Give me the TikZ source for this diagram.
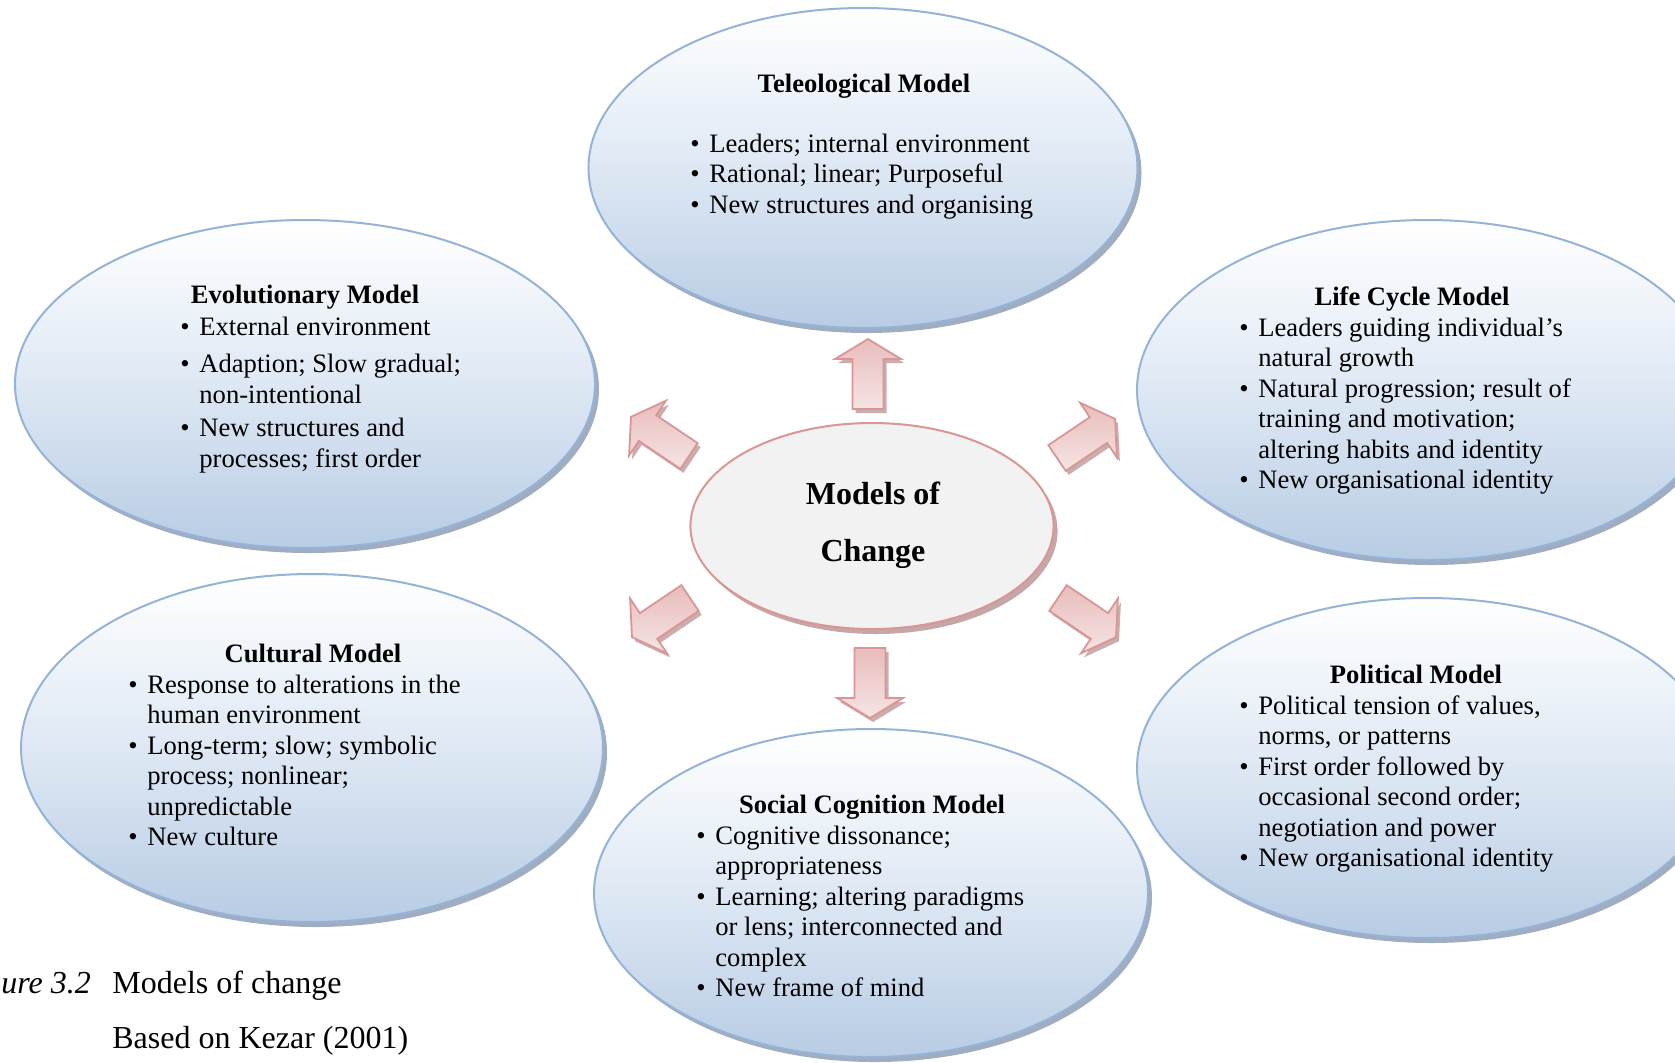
\documentclass[tikz,border=0pt]{standalone}
\usepackage{fontspec}
\setmainfont{Liberation Serif}
\usetikzlibrary{shapes.geometric,shadows}

\definecolor{ellborder}{RGB}{149,179,215}
\definecolor{ellbottom}{RGB}{184,204,228}
\definecolor{ellmid}{RGB}{222,232,244}
\definecolor{ellshadow}{RGB}{120,138,166}
\definecolor{hubfill}{RGB}{242,242,242}
\definecolor{hubborder}{RGB}{217,150,148}
\definecolor{hubshadow}{RGB}{170,130,132}
\definecolor{arrowlight}{RGB}{246,228,228}
\definecolor{arrowdark}{RGB}{232,188,188}
\definecolor{arrowborder}{RGB}{217,150,148}
\definecolor{arrowshade}{RGB}{185,145,147}

\newcommand\bul{\makebox[9.5pt][l]{\textbullet}}

% block arrow: tail centre (x,y) in px, direction in degrees
\newcommand\chgarrow[3]{%
  \begin{scope}[shift={(#1,#2)}, xshift=1.5pt, yshift=-2pt, rotate=#3]
    \fill[arrowshade, opacity=.75] (0pt,-7.75pt) -- (25pt,-7.75pt) -- (25pt,-16.5pt)
      -- (35pt,0pt) -- (25pt,16.5pt) -- (25pt,7.75pt) -- (0pt,7.75pt) -- cycle;
  \end{scope}
  \begin{scope}[shift={(#1,#2)}, rotate=#3]
    \shade[top color=arrowdark, bottom color=arrowlight, draw=arrowborder, line width=0.9pt]
      (0pt,-7.75pt) -- (25pt,-7.75pt) -- (25pt,-16.5pt)
      -- (35pt,0pt) -- (25pt,16.5pt) -- (25pt,7.75pt) -- (0pt,7.75pt) -- cycle;
  \end{scope}}

\tikzset{
  model/.style={ellipse, draw=ellborder, line width=1pt,
    top color=white, bottom color=ellbottom, middle color=ellmid,
    inner sep=0pt, outer sep=0pt,
    drop shadow={shadow xshift=2pt, shadow yshift=-2.5pt, fill=ellshadow, opacity=.7}},
  hub/.style={ellipse, draw=hubborder, line width=1pt, fill=hubfill,
    inner sep=0pt, outer sep=0pt,
    drop shadow={shadow xshift=2pt, shadow yshift=-2.5pt, fill=hubshadow, opacity=.7}},
  mtitle/.style={font=\fontsize{13.3pt}{15.25pt}\selectfont\bfseries, anchor=base, inner sep=0pt},
  mitems/.style={font=\fontsize{13.3pt}{15.25pt}\selectfont, anchor=base west, inner sep=0pt},
  caption/.style={font=\fontsize{16pt}{19pt}\selectfont, inner sep=0pt}
}

\begin{document}
\begin{tikzpicture}[x=0.5pt, y=-0.5pt]
\useasboundingbox (0,0) rectangle (1675,1062);
\clip (0,0) rectangle (1675,1062);

% surrounding models
\node[model, minimum width=274.5pt, minimum height=160pt] (tele) at (863,168) {};
\node[model, minimum width=290pt, minimum height=164pt] (evo) at (305,384) {};
\node[model, minimum width=290pt, minimum height=170pt] (life) at (1427,390) {};
\node[model, minimum width=291pt, minimum height=174pt] (cult) at (312,748) {};
\node[model, minimum width=277pt, minimum height=164pt] (soc) at (871,893) {};
\node[model, minimum width=290pt, minimum height=170pt] (pol) at (1427,768) {};

% central hub
\node[hub, minimum width=181.6pt, minimum height=103pt] (hub) at (872,526) {};

% arrows radiating from the hub
\chgarrow{868}{409}{90}
\chgarrow{870}{648}{270}
\chgarrow{1057}{458}{34}
\chgarrow{689}{456}{146}
\chgarrow{690}{598}{214}
\chgarrow{1058}{598}{326}

% hub label
\node[font=\fontsize{16pt}{28.5pt}\selectfont\bfseries, anchor=base, inner sep=0pt] (hub-label) at (873,504)
  {\begin{tabular}[t]{@{}c@{}}Models of\\Change\end{tabular}};

% Teleological
\node[mtitle] (tele-title) at (864,92) {Teleological Model};
\node[mitems] (tele-items) at (690,152) {\begin{tabular}[t]{@{}l@{}l@{}}
 \bul & Leaders; internal environment\\
 \bul & Rational; linear; Purposeful\\
 \bul & New structures and organising
\end{tabular}};

% Evolutionary
\node[mtitle] (evo-title) at (305,303) {Evolutionary Model};
\node[mitems] (evo-items) at (180,335) {\begin{tabular}[t]{@{}l@{}l@{}}
 \bul & External environment\\[3.5pt]
 \bul & Adaption; Slow gradual;\\
      & non-intentional\\[1.5pt]
 \bul & New structures and\\
      & processes; first order
\end{tabular}};

% Life Cycle
\node[mtitle] (life-title) at (1412,305) {Life Cycle Model};
\node[mitems] (life-items) at (1239,336) {\begin{tabular}[t]{@{}l@{}l@{}}
 \bul & Leaders guiding individual’s\\
      & natural growth\\
 \bul & Natural progression; result of\\
      & training and motivation;\\
      & altering habits and identity\\
 \bul & New organisational identity
\end{tabular}};

% Cultural
\node[mtitle] (cult-title) at (313,662) {Cultural Model};
\node[mitems] (cult-items) at (128,693) {\begin{tabular}[t]{@{}l@{}l@{}}
 \bul & Response to alterations in the\\
      & human environment\\
 \bul & Long-term; slow; symbolic\\
      & process; nonlinear;\\
      & unpredictable\\
 \bul & New culture
\end{tabular}};

% Social Cognition
\node[mtitle] (soc-title) at (872,813) {Social Cognition Model};
\node[mitems] (soc-items) at (696,844) {\begin{tabular}[t]{@{}l@{}l@{}}
 \bul & Cognitive dissonance;\\
      & appropriateness\\
 \bul & Learning; altering paradigms\\
      & or lens; interconnected and\\
      & complex\\
 \bul & New frame of mind
\end{tabular}};

% Political
\node[mtitle] (pol-title) at (1416,683) {Political Model};
\node[mitems] (pol-items) at (1239,714) {\begin{tabular}[t]{@{}l@{}l@{}}
 \bul & Political tension of values,\\
      & norms, or patterns\\
 \bul & First order followed by\\
      & occasional second order;\\
      & negotiation and power\\
 \bul & New organisational identity
\end{tabular}};

% caption
\node[caption, anchor=base west] (fig-num) at (1,993) {\itshape ure 3.2};
\node[caption, anchor=base west] (fig-title) at (112,993) {Models of change};
\node[caption, anchor=base west] (fig-source) at (112,1048) {Based on Kezar (2001)};
\end{tikzpicture}
\end{document}
